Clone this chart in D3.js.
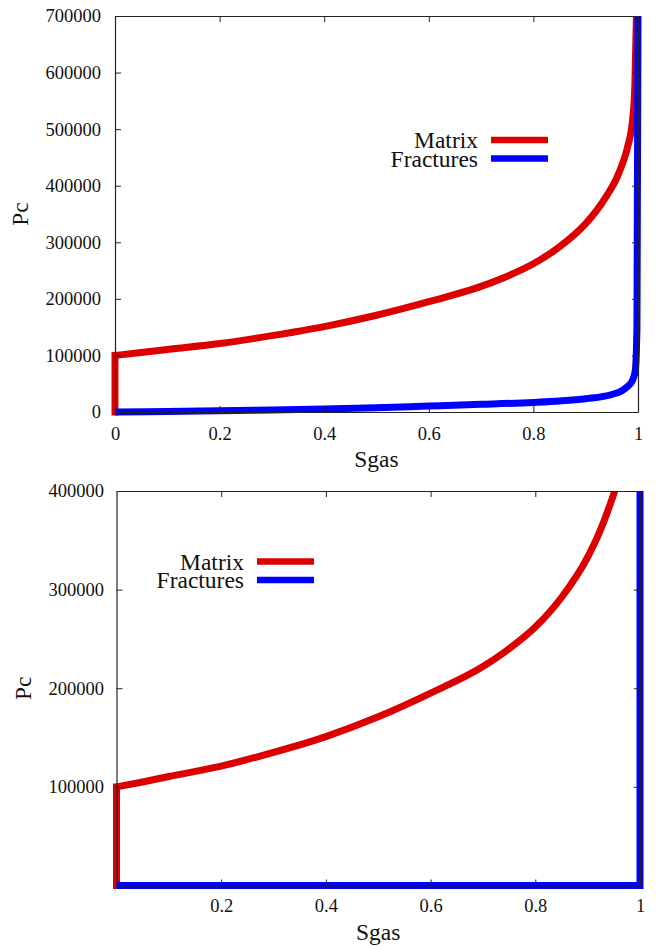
<!DOCTYPE html>
<html>
<head>
<meta charset="utf-8">
<script src="https://cdn.jsdelivr.net/npm/d3@7"></script>
<style>
  body { margin: 0; background: #fff; }
  svg text { font-family: "Liberation Serif", "Times New Roman", serif; fill: #111; }
</style>
</head>
<body>
<svg id="chart" width="661" height="947"></svg>
<script>
// Capillary pressure curves (Pc vs gas saturation)
const matrixSg = [0, 0, 0.05, 0.1, 0.2, 0.3, 0.4, 0.5, 0.6, 0.7, 0.75, 0.8, 0.85, 0.9, 0.92, 0.94, 0.96, 0.97, 0.98, 0.99, 0.994, 0.997];
const matrixPc = [0, 100000, 105000, 110500, 121000, 135000, 151000, 171000, 195000, 222000, 240000, 262000, 292000, 333000, 355000, 382000, 415000, 438000, 468000, 520000, 578000, 700000];

const fracturesSg = [0, 0.1, 0.2, 0.3, 0.4, 0.5, 0.6, 0.7, 0.8, 0.85, 0.9, 0.95, 0.97, 0.98, 0.99, 0.995, 0.998, 1];
const fracturesPc = [0, 1000, 2200, 3600, 5200, 7500, 10500, 13500, 17000, 19500, 23500, 31000, 38000, 45000, 57000, 75000, 150000, 700000];

// second case: zero fracture capillary pressure up to full saturation
const fracturesZeroSg = [0, 1, 1];
const fracturesZeroPc = [0, 0, 400000];

const seriesNames = ["Matrix", "Fractures"];
const seriesColors = ["#dd0000", "#0000ff"];

const topXTicks = [0, 0.2, 0.4, 0.6, 0.8, 1];
const topYTicks = [0, 100000, 200000, 300000, 400000, 500000, 600000, 700000];
const bottomXTicks = [0.2, 0.4, 0.6, 0.8, 1];
const bottomYTicks = [100000, 200000, 300000, 400000];

const FONT = '"Liberation Serif", "Times New Roman", serif';
const svg = d3.select("#chart");

function panel(cfg, idx) {
  const { left, right, top, bottom } = cfg.box;
  const x = d3.scaleLinear().domain([0, 1]).range([left, right]);
  const y = d3.scaleLinear().domain([0, cfg.yMax]).range([bottom, top]);
  const g = svg.append("g");

  const clipId = "clip" + idx;
  g.append("clipPath").attr("id", clipId)
    .append("rect")
    .attr("x", left - 20).attr("y", top)
    .attr("width", right - left + 40).attr("height", bottom - top + 20);

  const straight = d3.line().x(d => x(d[0])).y(d => y(d[1]));
  const smooth = d3.line().x(d => x(d[0])).y(d => y(d[1])).curve(d3.curveMonotoneX);
  const curves = g.append("g").attr("clip-path", `url(#${clipId})`);
  cfg.series.forEach((s, i) => {
    const pts = d3.zip(s.sg, s.pc);
    // a vertical step at the start is drawn straight, the rest as a smooth curve
    let k = 0;
    while (k + 1 < pts.length && pts[k + 1][0] === pts[k][0]) k++;
    const parts = s.smooth
      ? (k > 0 ? [[pts.slice(0, k + 1), straight, "square"], [pts.slice(k), smooth, "butt"]]
               : [[pts, smooth, "butt"]])
      : [[pts, straight, "butt"]];
    parts.forEach(([p, gen, cap]) => {
      curves.append("path")
        .datum(p)
        .attr("d", gen)
        .attr("fill", "none")
        .attr("stroke", seriesColors[i])
        .attr("stroke-width", 7)
        .attr("stroke-linejoin", "miter")
        .attr("stroke-linecap", cap);
    });
  });

  const fmtX = d3.format("~g");
  const fmtY = d3.format("d");
  const style = sel => {
    sel.attr("font-size", null).attr("font-family", null);
    sel.select(".domain").attr("stroke", "#222").attr("stroke-width", 1.2);
    sel.selectAll(".tick line").attr("stroke", "#222").attr("stroke-width", 1);
    sel.selectAll(".tick text").attr("font-family", FONT).attr("font-size", 18.5).attr("fill", "#111");
  };

  g.append("g").attr("transform", `translate(0,${bottom})`)
    .call(d3.axisBottom(x).tickValues(cfg.xTicks).tickSizeInner(-6).tickSizeOuter(0)
      .tickPadding(cfg.xPad).tickFormat(fmtX))
    .call(style);
  g.append("g").attr("transform", `translate(0,${top})`)
    .call(d3.axisTop(x).tickValues(cfg.xTicks).tickSizeInner(-6).tickSizeOuter(0).tickFormat(""))
    .call(style);
  g.append("g").attr("transform", `translate(${left},0)`)
    .call(d3.axisLeft(y).tickValues(cfg.yTicks).tickSizeInner(-6).tickSizeOuter(0)
      .tickPadding(cfg.yPad).tickFormat(fmtY))
    .call(style);
  g.append("g").attr("transform", `translate(${right},0)`)
    .call(d3.axisRight(y).tickValues(cfg.yTicks).tickSizeInner(-6).tickSizeOuter(0).tickFormat(""))
    .call(style);

  g.append("text")
    .attr("font-family", FONT).attr("font-size", 23.5)
    .attr("x", (left + right) / 2).attr("y", bottom + 54.5)
    .attr("text-anchor", "middle").text("Sgas");
  g.append("text")
    .attr("font-family", FONT).attr("font-size", 23.5)
    .attr("transform", `translate(${cfg.pcX},${(top + bottom) / 2}) rotate(-90)`)
    .attr("text-anchor", "middle").text("Pc");

  const lg = g.append("g");
  seriesNames.forEach((name, i) => {
    const cy = cfg.legend.y + i * 18.5;
    lg.append("text")
      .attr("font-family", FONT).attr("font-size", 23.5)
      .attr("x", cfg.legend.x).attr("y", cy + 8)
      .attr("text-anchor", "end").text(name);
    lg.append("line")
      .attr("x1", cfg.legend.x + 13).attr("x2", cfg.legend.x + 70)
      .attr("y1", cy).attr("y2", cy)
      .attr("stroke", seriesColors[i]).attr("stroke-width", 6.5);
  });
}

panel({
  box: { left: 115, right: 638, top: 16, bottom: 412 },
  yMax: 700000,
  xTicks: topXTicks, yTicks: topYTicks,
  xPad: 14.4, yPad: 14, pcX: 28,
  legend: { x: 478, y: 140 },
  series: [
    { sg: matrixSg, pc: matrixPc, smooth: true },
    { sg: fracturesSg, pc: fracturesPc, smooth: true }
  ]
}, 0);

panel({
  box: { left: 116.5, right: 640, top: 491, bottom: 885.5 },
  yMax: 400000,
  xTicks: bottomXTicks, yTicks: bottomYTicks,
  xPad: 13.4, yPad: 12.5, pcX: 31,
  legend: { x: 244, y: 561.5 },
  series: [
    { sg: matrixSg, pc: matrixPc, smooth: true },
    { sg: fracturesZeroSg, pc: fracturesZeroPc, smooth: false }
  ]
}, 1);
</script>
</body>
</html>
